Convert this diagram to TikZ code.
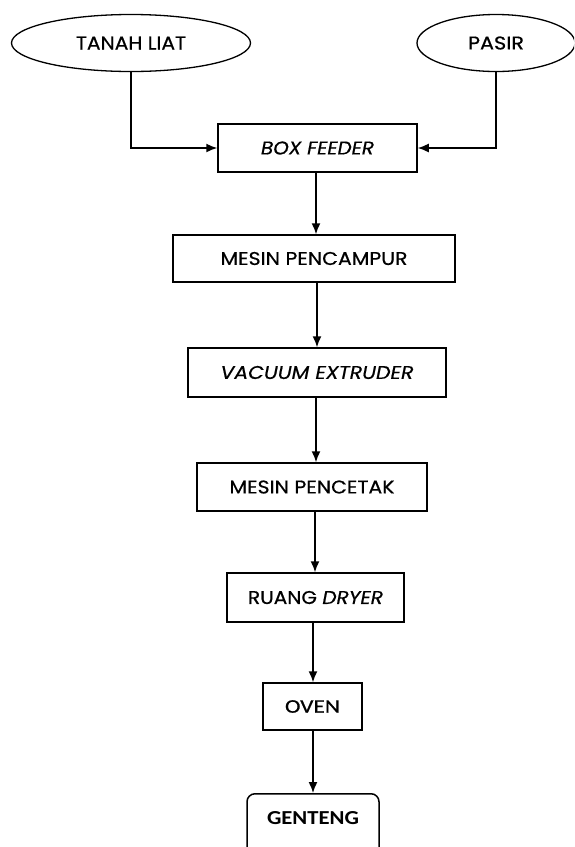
\documentclass[tikz,border=0pt]{standalone}
\usepackage{graphicx}
\usepackage{fontspec}
\setmainfont{Poppins}[UprightFeatures={FakeBold=0.6}, ItalicFeatures={FakeBold=0.6}]
\newfontfamily\calib{Carlito}[UprightFeatures={FakeBold=0.6}]
\usetikzlibrary{shapes.geometric,arrows.meta}
\newcommand{\fitt}[2]{\resizebox{#1}{13pt}{#2}}
\tikzset{
  flow/.style={draw, line width=1.5pt, rectangle, inner sep=0pt, minimum height=48pt},
  src/.style={draw, line width=1.3pt, ellipse, inner sep=0pt, minimum height=57pt},
  conn/.style={line width=1.5pt, -{Latex[length=11pt,width=9pt]}}
}
\begin{document}
\begin{tikzpicture}[x=1pt,y=-1pt]
\useasboundingbox (0,0) rectangle (574,847);
\clip (0,0) rectangle (574,847);
\node[src, minimum width=239pt] (tanah) at (131,43) {\fitt{110pt}{TANAH LIAT}};
\node[src, minimum width=158pt] (pasir) at (496,43) {\fitt{56pt}{PASIR}};
\node[flow, minimum width=199pt] (feeder) at (317.5,148) {\fitt{113pt}{\itshape BOX FEEDER}};
\node[flow, minimum width=282pt, minimum height=47pt] (campur) at (314,258.5) {\fitt{187pt}{MESIN PENCAMPUR}};
\node[flow, minimum width=258pt, minimum height=49pt] (vacuum) at (317,372.5) {\fitt{193pt}{\itshape VACUUM EXTRUDER}};
\node[flow, minimum width=230pt] (cetak) at (312,487) {\fitt{165pt}{MESIN PENCETAK}};
\node[flow, minimum width=177pt, minimum height=49pt] (dryer) at (315.5,597.5) {\fitt{135pt}{RUANG \textit{DRYER}}};
\node[flow, minimum width=99pt, minimum height=47pt] (oven) at (312.5,706.5) {\resizebox{55pt}{12.5pt}{\calib OVEN}};
\node[draw, line width=1.5pt, rectangle, rounded corners=8pt, anchor=north, minimum width=132pt,
      inner xsep=0pt, inner ysep=18pt, text height=13pt, text depth=60pt] (genteng) at (313,793)
      {\resizebox{92pt}{13pt}{\calib\bfseries GENTENG}};
\draw[conn] (tanah.south) |- (feeder.west);
\draw[conn] (pasir.south) |- (feeder.east);
\draw[conn] (feeder.south -| 316,0) -- (campur.north -| 316,0);
\draw[conn] (campur.south -| 317,0) -- (vacuum.north -| 317,0);
\draw[conn] (vacuum.south -| 316,0) -- (cetak.north -| 316,0);
\draw[conn] (cetak.south -| 315,0) -- (dryer.north -| 315,0);
\draw[conn] (dryer.south -| 313,0) -- (oven.north -| 313,0);
\draw[conn] (oven.south -| 313,0) -- (genteng.north -| 313,0);
\end{tikzpicture}
\end{document}
